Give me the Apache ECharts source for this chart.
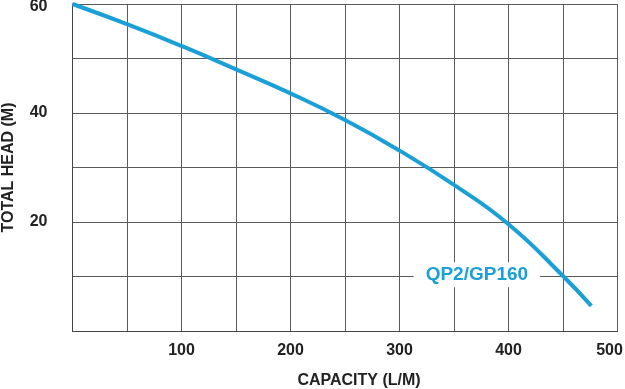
<!DOCTYPE html>
<html>
<head>
<meta charset="utf-8">
<script src="https://cdn.jsdelivr.net/npm/echarts@6/dist/echarts.min.js"></script>
<style>
html,body{margin:0;padding:0;background:#fff;}
#chart{width:625px;height:389px;}
</style>
</head>
<body>
<div id="chart"></div>
<script>
var capacity = [0, 50, 100, 150, 200, 250, 300, 350, 400, 450, 476];
var totalHead = [60, 56.3, 52.3, 48.0, 43.6, 38.7, 33.1, 26.8, 19.6, 10.1, 4.6];
var seriesName = 'QP2/GP160';
var labelPos = [371, 10.3];
var xAxisName = 'CAPACITY (L/M)';
var yAxisName = 'TOTAL HEAD (M)';

var FONT = '"Liberation Sans", Arial, sans-serif';
var chart = echarts.init(document.getElementById('chart'), null, {renderer: 'canvas'});
chart.setOption({
  animation: false,
  backgroundColor: '#fff',
  grid: {left: 72.5, right: 7.5, top: 4, bottom: 58, containLabel: false, outerBoundsMode: 'none'},
  xAxis: {
    type: 'value', min: 0, max: 500, interval: 50,
    name: xAxisName, nameLocation: 'middle', nameGap: 42,
    nameTextStyle: {fontFamily: FONT, fontWeight: 'bold', fontSize: 16, color: '#222', padding: [0, 0, 0, 28]},
    axisLine: {show: true, lineStyle: {color: '#444', width: 1}},
    axisTick: {show: false},
    splitLine: {show: true, lineStyle: {color: '#5a5a5a', width: 1}},
    axisLabel: {
      margin: 12, fontFamily: FONT, fontWeight: 'bold', fontSize: 16, color: '#222',
      formatter: function (v) {
        if (v === 500) return '{m|' + v + '}';
        return (v > 0 && v % 100 === 0) ? String(v) : '';
      },
      rich: {m: {fontFamily: FONT, fontWeight: 'bold', fontSize: 16, color: '#222', padding: [0, 16, 0, 0]}}
    }
  },
  yAxis: {
    type: 'value', min: 0, max: 60, interval: 10,
    name: yAxisName, nameLocation: 'middle', nameGap: 56, nameRotate: 90,
    nameTextStyle: {fontFamily: FONT, fontWeight: 'bold', fontSize: 16, color: '#222'},
    axisLine: {show: true, lineStyle: {color: '#444', width: 1}},
    axisTick: {show: false},
    splitLine: {show: true, lineStyle: {color: '#5a5a5a', width: 1}},
    axisLabel: {
      margin: 25, fontFamily: FONT, fontWeight: 'bold', fontSize: 16, color: '#222',
      formatter: function (v) {
        if (v === 60) return '{t|' + v + '}';
        return (v > 0 && v % 20 === 0) ? String(v) : '';
      },
      rich: {t: {fontFamily: FONT, fontWeight: 'bold', fontSize: 16, color: '#222', padding: [6, 0, 0, 0]}}
    }
  },
  series: [{
    name: seriesName,
    type: 'line',
    data: capacity.map(function (c, i) { return [c, totalHead[i]]; }),
    smooth: true,
    symbol: 'none',
    clip: false,
    lineStyle: {color: '#1a9fd6', width: 4},
    markPoint: {
      symbol: 'rect', symbolSize: 0,
      data: [{coord: labelPos}],
      label: {
        show: true, position: 'inside',
        formatter: seriesName,
        fontFamily: FONT, fontWeight: 'bold', fontSize: 19, color: '#1a9fd6',
        backgroundColor: '#fff', padding: [3, 12, 3, 12]
      }
    }
  }]
});
</script>
</body>
</html>
